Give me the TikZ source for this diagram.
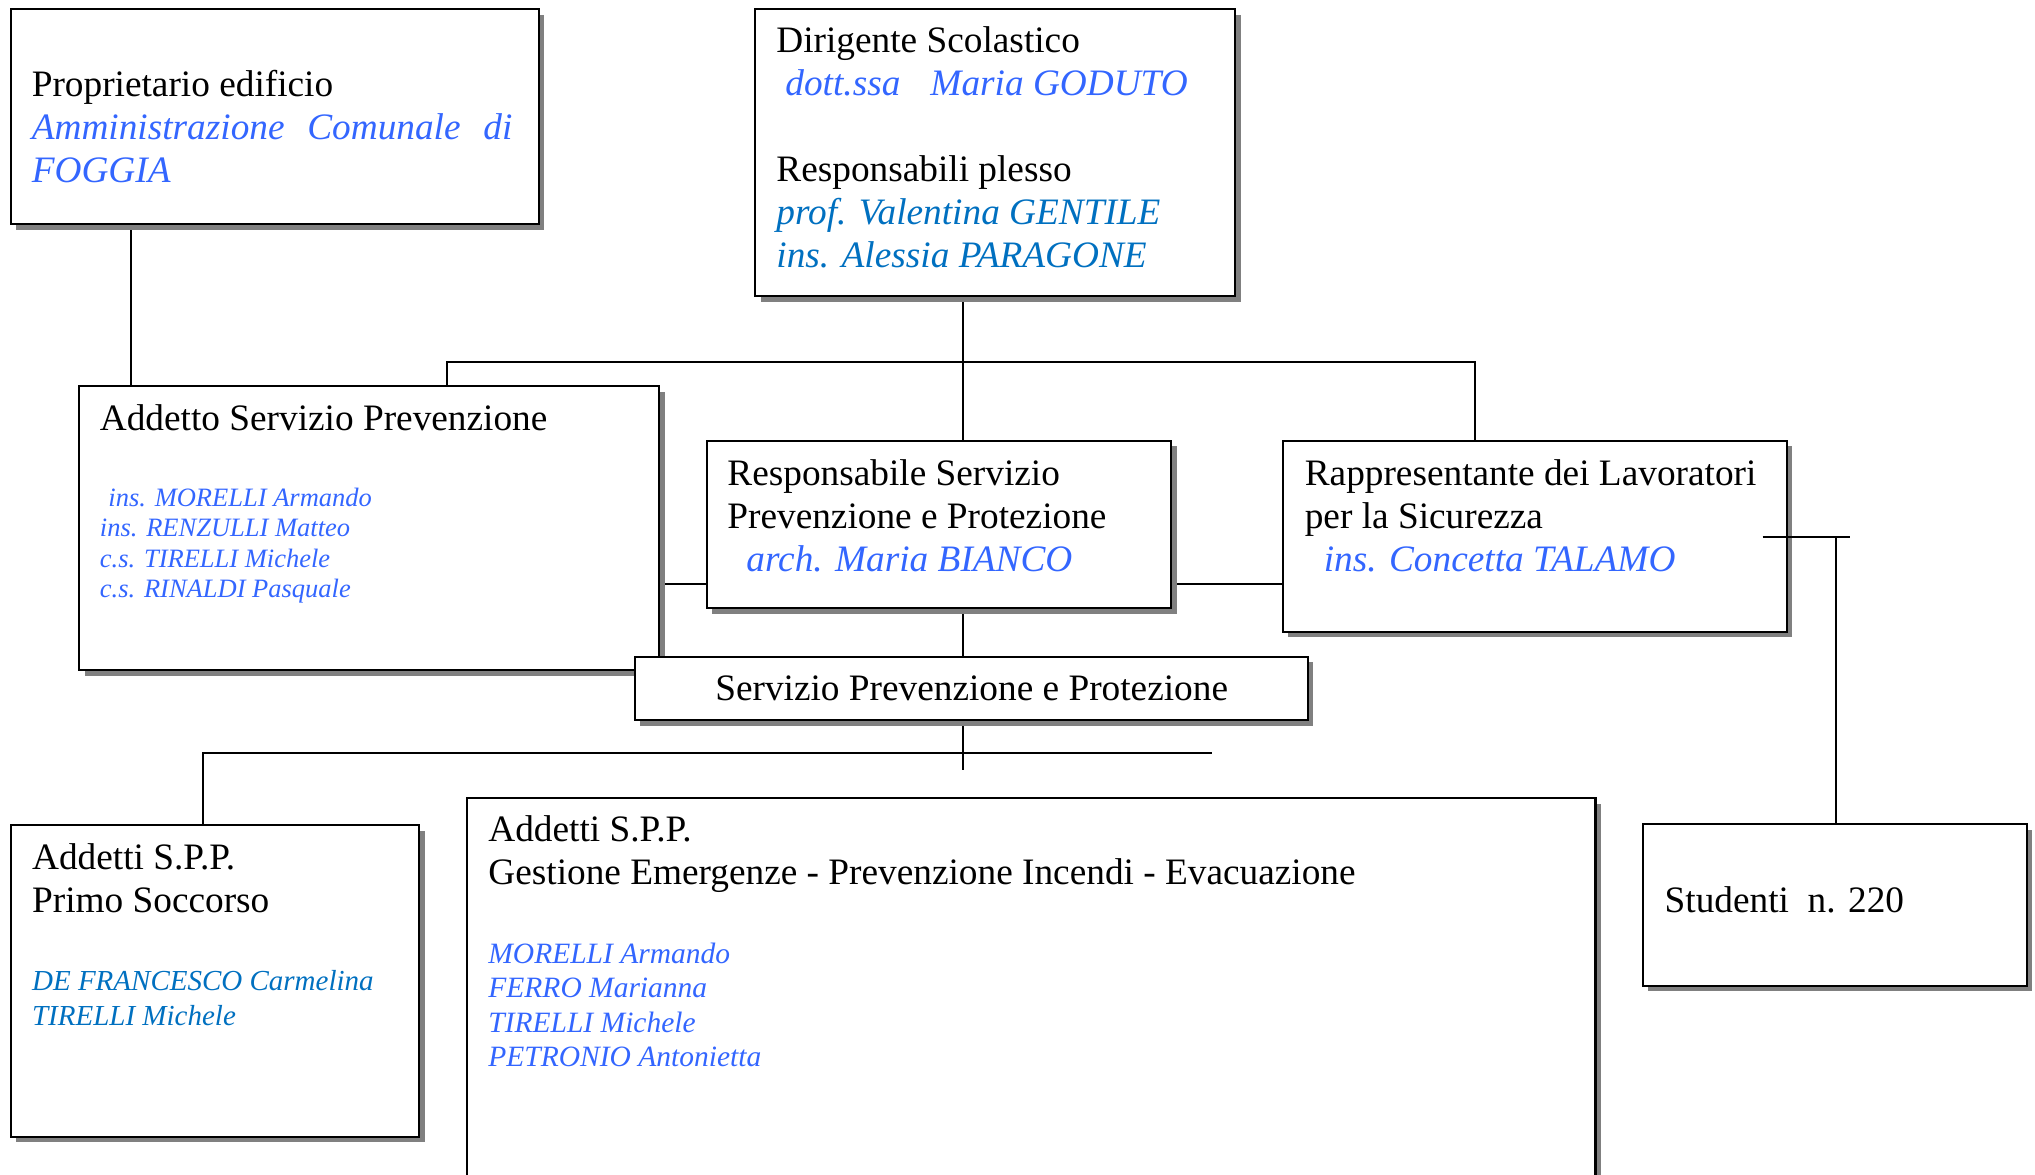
\documentclass[tikz,border=0pt]{standalone}
\usepackage{fontspec}
\setmainfont{Liberation Serif}
\usetikzlibrary{shadows,fit,backgrounds}
\definecolor{blueA}{RGB}{51,102,255}
\definecolor{blueB}{RGB}{0,112,192}
\definecolor{shgray}{RGB}{128,128,128}
\newcommand\bigtxt{\fontsize{18.65}{21.5}\selectfont}
\newcommand\smalltxt{\fontsize{13.25}{15.25}\selectfont}
\newcommand\midtxt{\fontsize{14.5}{17.5}\selectfont}
\newcommand\midtxtb{\fontsize{14.75}{17.25}\selectfont}
\begin{document}
\begin{tikzpicture}[x=0.5pt,y=-0.5pt,
  box/.style={draw=black, line width=1.1pt, fill=white, inner sep=0pt,
    drop shadow={shadow xshift=2.75pt, shadow yshift=-2.75pt, fill=shgray, opacity=1}},
  txt/.style={anchor=base west, inner sep=0pt},
  conn/.style={draw=black, line width=0.9pt}]
\useasboundingbox (0,0) rectangle (2035,1174);
\clip (0,0) rectangle (2035,1174);

% boxes
\node[box, fit={(10.7,9) (538.6,224)}] (A) {};
\node[box, fit={(755,9) (1235,296)}] (B) {};
\node[box, fit={(79,386) (659,670)}] (C) {};
\node[box, fit={(706.6,440.7) (1171,608.3)}] (D) {};
\node[box, fit={(1282.6,440.7) (1786.6,631.7)}] (E) {};
\node[box, fit={(634.6,656.7) (1307.7,720)}] (F) {};
\node[box, fit={(10.7,825) (419,1136.7)}] (G) {};
\node[box, fit={(466.8,798.3) (1595.4,1200)}] (H) {};
\node[box, fit={(1642.7,824.3) (2026.7,985.7)}] (I) {};

% texts
\node[txt] (tA) at (31.4,96.7) {\parbox[t]{300pt}{\bigtxt Proprietario edificio\\
  {\color{blueA}\itshape\hbox to 240.3pt{Amministrazione\hfill Comunale\hfill di}\\ FOGGIA}}};
\node[txt] (tB) at (776,52) {\parbox[t]{300pt}{\bigtxt Dirigente Scolastico\\
  {\color{blueA}\itshape\hspace*{4.5pt}dott.ssa\hspace{15pt}Maria GODUTO}\\[21.5pt]
  Responsabili plesso\\
  {\color{blueB}\itshape prof. Valentina GENTILE\\ ins. Alessia PARAGONE}}};
\node[txt] (tC) at (99.5,430) {\bigtxt Addetto Servizio Prevenzione};
\node[txt, text=blueA, font=\smalltxt\itshape] (nC) at (99.5,506) {\parbox[t]{300pt}{\smalltxt\itshape
  \hspace*{4.25pt}ins. MORELLI Armando\\ ins. RENZULLI Matteo\\ c.s. TIRELLI Michele\\ c.s. RINALDI Pasquale}};
\node[txt] (tD) at (727,485) {\parbox[t]{300pt}{\bigtxt Responsabile Servizio\\
  Prevenzione e Protezione\\ \hspace*{9.5pt}{\color{blueA}\itshape arch. Maria BIANCO}}};
\node[txt] (tE) at (1304.4,485) {\parbox[t]{300pt}{\bigtxt Rappresentante dei Lavoratori\\
  per la Sicurezza\\ \hspace*{9.5pt}{\color{blueA}\itshape ins. Concetta TALAMO}}};
\node[txt] (tF) at (714.9,700.7) {\bigtxt Servizio Prevenzione e Protezione};
\node[txt] (tG) at (31.7,869.3) {\parbox[t]{300pt}{\bigtxt Addetti S.P.P.\\ Primo Soccorso}};
\node[txt, text=blueB, font=\midtxt\itshape] (nG) at (31.7,990) {\parbox[t]{300pt}{\midtxt\itshape
  DE FRANCESCO Carmelina\\ TIRELLI Michele}};
\node[txt] (tH) at (488,841.7) {\parbox[t]{600pt}{\bigtxt Addetti S.P.P.\\
  Gestione Emergenze - Prevenzione Incendi - Evacuazione}};
\node[txt, text=blueA, font=\midtxtb\itshape] (nH) at (488,963.3) {\parbox[t]{300pt}{\midtxtb\itshape
  MORELLI Armando\\ FERRO Marianna\\ TIRELLI Michele\\ PETRONIO Antonietta}};
\node[txt] (tI) at (1664.3,912.7) {\bigtxt Studenti\ \ n. 220};

% helper coordinates
\coordinate (xA) at (130.7,0);
\coordinate (xB) at (962.8,0);
\coordinate (xC) at (446.7,0);
\coordinate (xE) at (1474.7,0);
\coordinate (xG) at (202.7,0);
\coordinate (xI) at (1835.6,0);
\coordinate (yBus) at (0,362);
\coordinate (yH) at (0,584.3);
\coordinate (yBus2) at (0,752.7);
\coordinate (fEnd) at (962.8,770);
\coordinate (busEnd) at (1211.6,752.7);
\coordinate (sStart) at (1762.5,536.7);
\coordinate (sEnd) at (1849.8,536.7);

\begin{pgfonlayer}{background}
\draw[conn] (A.south -| xA) -- (C.north -| xA);
\draw[conn] (B.south -| xB) -- (D.north -| xB);
\draw[conn] (C.north -| xC) -- (xC |- yBus) -- (xE |- yBus) -- (E.north -| xE);
\draw[conn] (C.east |- yH) -- (D.west |- yH);
\draw[conn] (D.east |- yH) -- (E.west |- yH);
\draw[conn] (D.south -| xB) -- (F.north -| xB);
\draw[conn] (F.south -| xB) -- (fEnd);
\draw[conn] (busEnd) -- (xG |- yBus2) -- (G.north -| xG);
\end{pgfonlayer}
\draw[conn] (sStart) -- (sEnd);
\draw[conn] (xI |- sStart) -- (I.north -| xI);
\end{tikzpicture}
\end{document}
